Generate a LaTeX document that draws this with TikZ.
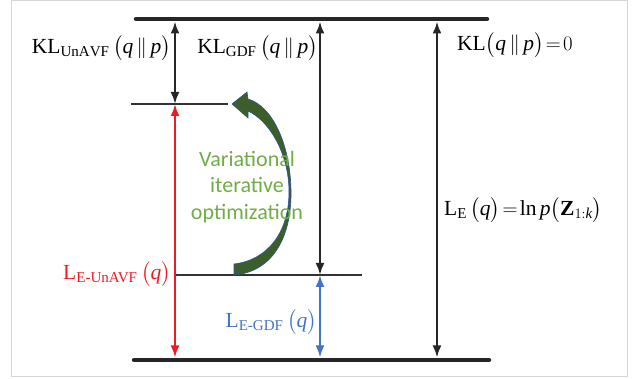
\documentclass[tikz,border=0pt]{standalone}
\usepackage{amsmath}
\usepackage{fontspec}
\setmainfont{Liberation Serif}
\newfontfamily\optfont{Carlito}
\usetikzlibrary{arrows.meta}
\definecolor{lossred}{RGB}{237,28,36}
\definecolor{lossblue}{RGB}{68,114,196}
\definecolor{optgreen}{RGB}{112,173,71}
\definecolor{curvegreen}{RGB}{59,94,43}
\definecolor{curveedge}{RGB}{47,85,151}
\definecolor{framegray}{RGB}{215,215,215}

\begin{document}
\begin{tikzpicture}[
  x=1pt,y=-1pt,
  level/.style={line width=4.5pt,line cap=round,black!85},
  midlevel/.style={line width=2pt,black!80},
  gap/.style={{Latex[length=12pt,width=9pt]}-{Latex[length=12pt,width=9pt]},line width=2.2pt},
  lbl/.style={font=\fontsize{21.5}{26}\selectfont,inner sep=0pt}
]
\useasboundingbox (0,0) rectangle (641,379);
\draw[framegray,line width=1pt] (11,1) rectangle (627,377);

% levels
\coordinate (top-l) at (136,19);
\coordinate (top-r) at (487,19);
\coordinate (unavf-l) at (131,104);
\coordinate (unavf-r) at (228,104);
\coordinate (gdf-l) at (175,275);
\coordinate (gdf-r) at (362,275);
\coordinate (bot-l) at (134,360);
\coordinate (bot-r) at (489,360);
\draw[level] (top-l) -- (top-r);
\draw[level] (bot-l) -- (bot-r);
\draw[midlevel] (unavf-l) -- (unavf-r);
\draw[midlevel] (gdf-l) -- (gdf-r);

% arrow ends
\coordinate (kl1-t) at (175,21.5);
\coordinate (kl1-b) at (175,104);
\coordinate (kl2-t) at (320,21.5);
\coordinate (kl2-b) at (320,275);
\coordinate (kl3-t) at (437,21.5);
\coordinate (kl3-b) at (437,357.5);
\coordinate (le1-t) at (175,104);
\coordinate (le1-b) at (175,357.5);
\coordinate (le2-t) at (320,275);
\coordinate (le2-b) at (320,357.5);
\draw[gap,black!85] (kl1-t) -- (kl1-b);
\draw[gap,black!85] (kl2-t) -- (kl2-b);
\draw[gap,black!85] (kl3-t) -- (kl3-b);
\draw[gap,lossred] (le1-b) -- (le1-t);
\draw[gap,lossblue] (le2-b) -- (le2-t);

% labels
\node[lbl,anchor=east] (klunavf) at (171,48) {$\mathrm{KL}_{\mathrm{UnAVF}}\,\bigl(\mathit{q}\,\|\,\mathit{p}\bigr)$};
\node[lbl,anchor=east] (klgdf) at (318,48) {$\mathrm{KL}_{\mathrm{GDF}}\,\bigl(\mathit{q}\,\|\,\mathit{p}\bigr)$};
\node[lbl,anchor=west] (klzero) at (457,45) {$\mathrm{KL}\bigl(\mathit{q}\,\|\,\mathit{p}\bigr)\!=\!0$};
\node[lbl,anchor=west] (elbo) at (444,210) {$\mathrm{L}_{\mathrm{E}}\,\bigl(\mathit{q}\bigr)\!=\!\ln \mathit{p}\bigl(\mathbf{Z}_{1:\mathit{k}}\bigr)$};
\node[lbl,anchor=east,text=lossred] (leunavf) at (171,274) {$\mathrm{L}_{\text{E-UnAVF}}\,\bigl(\mathit{q}\bigr)$};
\node[lbl,anchor=east,text=lossblue] (legdf) at (317,322) {$\mathrm{L}_{\text{E-GDF}}\,\bigl(\mathit{q}\bigr)$};

% curved arrow
\filldraw[fill=curvegreen,draw=curveedge,line width=0.6pt]
  (234,275) .. controls (272,272) and (292,238) .. (291,190)
  .. controls (290,143) and (272,106) .. (248,99)
  -- (247,92) -- (232,104) -- (248,118) -- (248,111)
  .. controls (268,120) and (289,152) .. (289,192)
  .. controls (289,232) and (268,260) .. (234,264) -- cycle;
\node[align=center,text=optgreen,font=\optfont\fontsize{22}{26.5}\selectfont,inner sep=0pt] (opt) at (247,187)
  {Variational\\iterative\\optimization};
\end{tikzpicture}
\end{document}
